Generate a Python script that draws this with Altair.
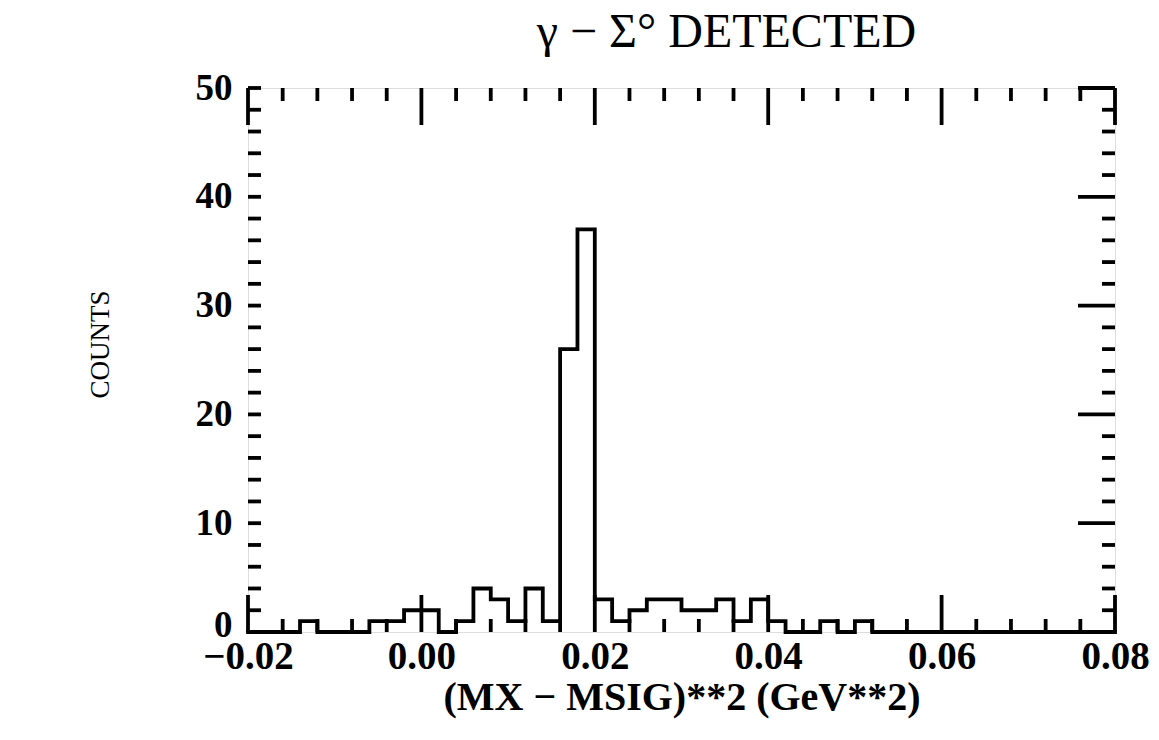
import altair as alt
import pandas as pd

# Histogram: bin left edges (GeV^2) and counts, bin width 0.002
bin_left = [-0.020, -0.018, -0.016, -0.014, -0.012, -0.010, -0.008, -0.006, -0.004, -0.002,
            0.000, 0.002, 0.004, 0.006, 0.008, 0.010, 0.012, 0.014, 0.016, 0.018,
            0.020, 0.022, 0.024, 0.026, 0.028, 0.030, 0.032, 0.034, 0.036, 0.038,
            0.040, 0.042, 0.044, 0.046, 0.048, 0.050, 0.052, 0.054, 0.056, 0.058,
            0.060, 0.062, 0.064, 0.066, 0.068, 0.070, 0.072, 0.074, 0.076, 0.078, 0.080]
counts = [0, 0, 0, 1, 0, 0, 0, 1, 1, 2,
          2, 0, 1, 4, 3, 1, 4, 1, 26, 37,
          3, 1, 2, 3, 3, 2, 2, 3, 1, 3,
          1, 0, 0, 1, 0, 1, 0, 0, 0, 0,
          0, 0, 0, 0, 0, 0, 0, 0, 0, 0, 0]

x_major = [-0.02, 0.00, 0.02, 0.04, 0.06, 0.08]
x_minor = [-0.016, -0.012, -0.008, -0.004, 0.004, 0.008, 0.012, 0.016,
           0.024, 0.028, 0.032, 0.036, 0.044, 0.048, 0.052, 0.056,
           0.064, 0.068, 0.072, 0.076]
y_major = [0, 10, 20, 30, 40, 50]
y_minor = [2, 4, 6, 8, 12, 14, 16, 18, 22, 24, 26, 28, 32, 34, 36, 38, 42, 44, 46, 48]
y_all = sorted(y_major + y_minor)

W, H = 867, 544
MAJ, MIN = 37, 13
LW = 3.8

hist = pd.DataFrame({"x": bin_left, "c": counts})
xs = alt.Scale(domain=[-0.02, 0.08], nice=False, zero=False)
ys = alt.Scale(domain=[0, 50], nice=False)

label_font = "Liberation Serif"

hist_line = alt.Chart(hist).mark_line(
    interpolate="step-after", color="black", strokeWidth=LW, strokeCap="square"
).encode(
    x=alt.X("x:Q", scale=xs,
            axis=alt.Axis(values=x_major, format=".2f", ticks=False, domain=False, grid=False,
                          labelFlush=False,
                          labelFont=label_font, labelFontWeight="bold", labelFontSize=39,
                          labelColor="black", labelPadding=5,
                          title="(MX − MSIG)**2 (GeV**2)", titleFont=label_font,
                          titleFontWeight="bold", titleFontSize=40, titleColor="black",
                          titlePadding=1)),
    y=alt.Y("c:Q", scale=ys,
            axis=alt.Axis(values=y_major, ticks=False, domain=False, grid=False,
                          labelFont=label_font, labelFontWeight="bold", labelFontSize=37,
                          labelColor="black", labelPadding=16,
                          labelOffset={"condition": {"test": "datum.value == 0", "value": -7},
                                       "value": 0},
                          title="COUNTS", titleFont=label_font, titleFontWeight="normal",
                          titleFontSize=27, titleColor="black",
                          titleX=-148, titleY=256, titleAngle=270,
                          titleAlign="center", titleBaseline="middle")),
)

def xticks(vals, length):
    df = pd.DataFrame({"v": vals})
    bottom = alt.Chart(df).mark_rule(color="black", strokeWidth=LW).encode(
        x=alt.X("v:Q", scale=xs), y=alt.value(H), y2=alt.value(H - length))
    top = alt.Chart(df).mark_rule(color="black", strokeWidth=LW).encode(
        x=alt.X("v:Q", scale=xs), y=alt.value(0), y2=alt.value(length))
    return [bottom, top]

def yticks(vals, length, side):
    df = pd.DataFrame({"v": vals})
    if side == "left":
        return alt.Chart(df).mark_rule(color="black", strokeWidth=LW).encode(
            y=alt.Y("v:Q", scale=ys), x=alt.value(0), x2=alt.value(length))
    return alt.Chart(df).mark_rule(color="black", strokeWidth=LW).encode(
        y=alt.Y("v:Q", scale=ys), x=alt.value(W), x2=alt.value(W - length))

layers = [hist_line]
layers += xticks(x_major, MAJ)
layers += xticks(x_minor, MIN)
layers.append(yticks(y_all, MIN, "left"))
layers.append(yticks(y_major, MAJ, "right"))
layers.append(yticks(y_minor, MIN, "right"))

chart = alt.layer(*layers).properties(
    width=W, height=H,
    title=alt.TitleParams(text="γ  −  Σ°  DETECTED", font="Liberation Serif",
                          fontSize=48, fontWeight="normal", color="black",
                          anchor="middle", dx=45, offset=12),
    autosize=alt.AutoSizeParams(type="none"),
    padding={"left": 248, "top": 88, "right": 44, "bottom": 108},
).configure_view(
    stroke="black", strokeWidth=4
).configure(background="white")

chart.save("out.html", embed_options={"renderer": "svg", "actions": False})
